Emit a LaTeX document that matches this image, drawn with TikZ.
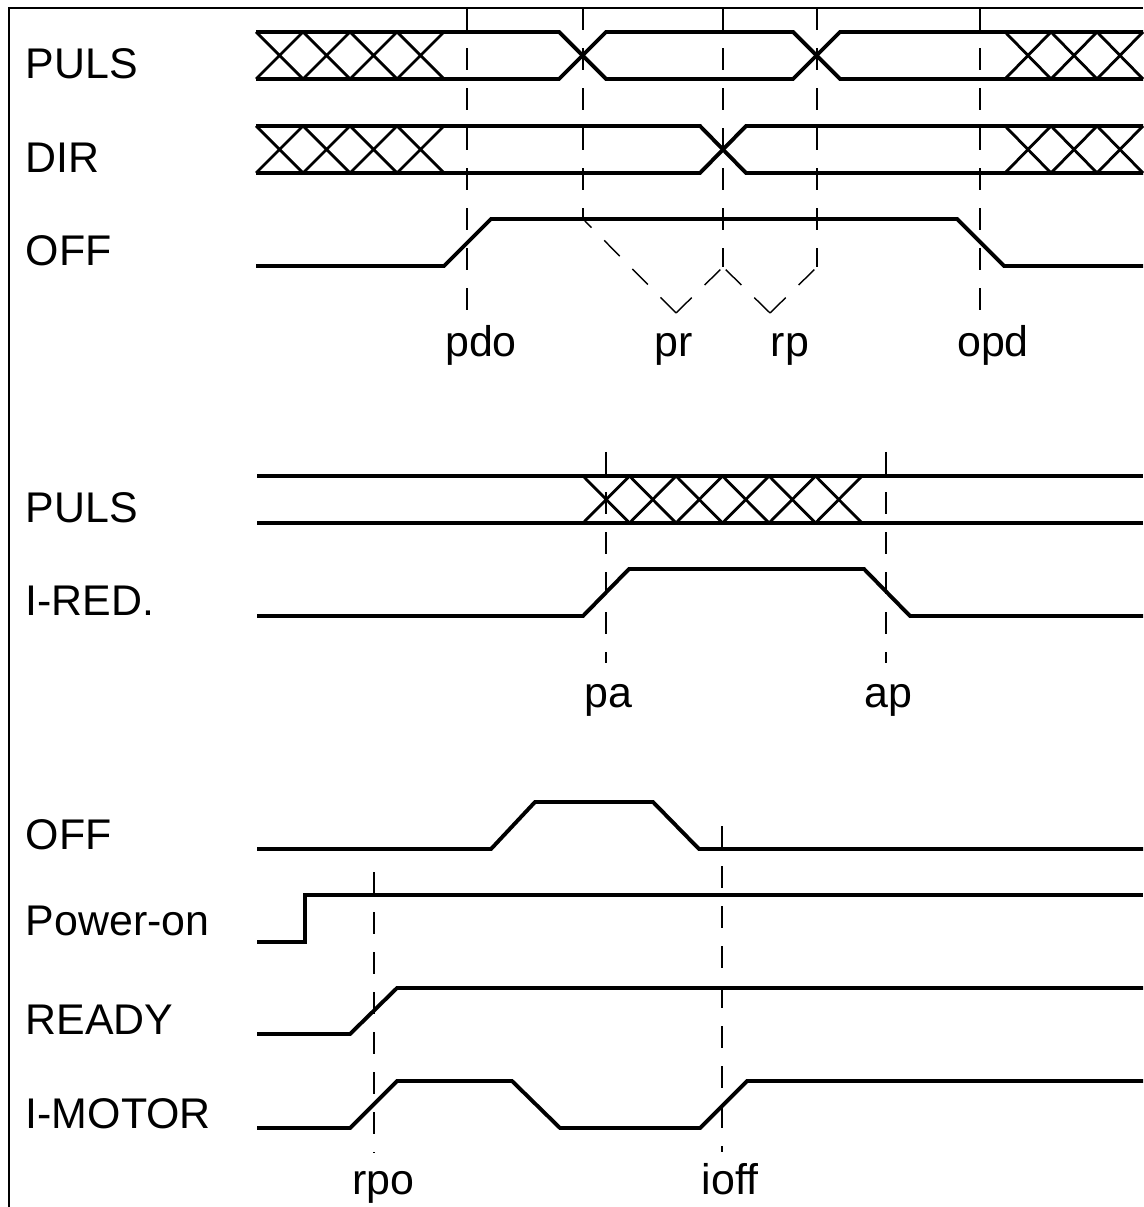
\documentclass[tikz,border=0pt]{standalone}
\usepackage{fontspec}
\setmainfont{Liberation Sans}
\usetikzlibrary{positioning}
\tikzstyle{sig}=[line width=1.1pt,line join=miter]
\tikzstyle{hatch}=[line width=0.8pt]
\tikzstyle{guide}=[line width=0.5pt,dash pattern=on 0.22cm off 0.18cm]
\tikzstyle{slope}=[line width=0.4pt,dash pattern=on 0.22cm off 0.18cm]
\tikzstyle{lbl}=[anchor=base west,inner sep=0pt,font=\fontsize{12.2}{14}\selectfont]
\tikzstyle{tlbl}=[anchor=base,inner sep=0pt,font=\fontsize{12.2}{14}\selectfont]

\begin{document}
\begin{tikzpicture}[x=0.01cm,y=-0.01cm]
\useasboundingbox (0,0) rectangle (1143,1207);
% frame
\draw[line width=0.6pt] (9,1207) -- (9,8) -- (1143,8);

% signal names
\node[lbl] (puls) at (25,79) {PULS};
\node[lbl] (dir) at (25,173) {DIR};
\node[lbl] (off) at (25,266) {OFF};
\node[lbl] (pulsb) at (25,523) {PULS};
\node[lbl] (ired) at (25,616) {I-RED.};
\node[lbl] (offb) at (25,849) {OFF};
\node[lbl] (pwr) at (25,935) {Power-on};
\node[lbl] (ready) at (25,1034) {READY};
\node[lbl] (imot) at (25,1128) {I-MOTOR};

% PULS / DIR bus
\draw[sig] (256,32) -- (559,32) -- (606,79) -- (793,79) -- (840,32) -- (1143,32);
\draw[sig] (256,79) -- (559,79) -- (606,32) -- (793,32) -- (840,79) -- (1143,79);
\draw[sig] (256,126) -- (700,126) -- (746,173) -- (1143,173);
\draw[sig] (256,173) -- (700,173) -- (746,126) -- (1143,126);
\foreach \x in {256,303,350,397} {
  \draw[hatch] (\x,32) -- ++(47,47) (\x,79) -- ++(47,-47);
  \draw[hatch] (\x,126) -- ++(47,47) (\x,173) -- ++(47,-47);
}
\foreach \x in {1005,1051,1097} {
  \draw[hatch] (\x,32) -- ++(46,47) (\x,79) -- ++(46,-47);
  \draw[hatch] (\x,126) -- ++(46,47) (\x,173) -- ++(46,-47);
}
\draw[sig] (256,266) -- (444,266) -- (491,219) -- (957,219) -- (1004,266) -- (1143,266);

% timing marks, top
\coordinate (prv) at (676,313);
\coordinate (rpv) at (770,313);
\coordinate (prs) at (583,219);
\coordinate (rps) at (723,267);
\coordinate (rpe) at (817,267);
\draw[guide] (467,8) -- (467,313);
\draw[guide] (583,8) -- (prs);
\draw[guide] (723,8) -- (rps);
\draw[guide] (817,8) -- (rpe);
\draw[guide] (980,8) -- (980,313);
\draw[slope] (prv) -- (prs);
\draw[slope] (prv) -- (rps);
\draw[slope] (rpv) -- (rps);
\draw[slope] (rpv) -- (rpe);
\node[tlbl] (pdo) at (481,357) {pdo};
\node[tlbl] (pr) at (674,357) {pr};
\node[tlbl] (rp) at (790,357) {rp};
\node[tlbl] (opd) at (993,357) {opd};

% PULS / I-RED.
\draw[sig] (257,476) -- (1143,476);
\draw[sig] (257,523) -- (1143,523);
\foreach \i in {0,...,5}
  \draw[hatch] ({583+46.5*\i},476) -- ++(46.5,47) ({583+46.5*\i},523) -- ++(46.5,-47);
\draw[sig] (257,616) -- (583,616) -- (629,569) -- (864,569) -- (910,616) -- (1143,616);
\draw[guide] (606,452) -- (606,663);
\draw[guide] (886,452) -- (886,663);
\node[tlbl] (pa) at (608,707) {pa};
\node[tlbl] (ap) at (888,707) {ap};

% OFF / Power-on / READY / I-MOTOR
\draw[sig] (257,849) -- (491,849) -- (535,802) -- (653,802) -- (699,849) -- (1143,849);
\draw[sig] (257,942) -- (305,942) -- (305,895) -- (1143,895);
\draw[sig] (257,1034) -- (350,1034) -- (397,988) -- (1143,988);
\draw[sig] (257,1128) -- (350,1128) -- (397,1081) -- (512,1081) -- (560,1128) -- (700,1128) -- (747,1081) -- (1143,1081);
\draw[guide] (374,872) -- (374,1153);
\draw[guide] (722,826) -- (722,1152);
\node[tlbl] (rpo) at (383,1194) {rpo};
\node[tlbl] (ioff) at (730,1194) {ioff};
\end{tikzpicture}
\end{document}
